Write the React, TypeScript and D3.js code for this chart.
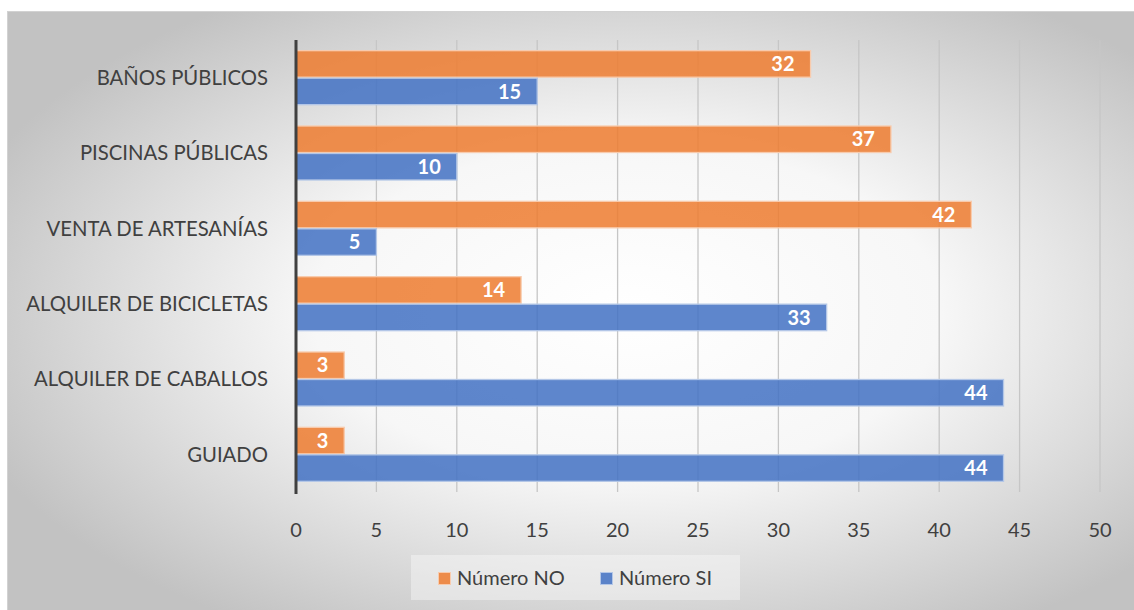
import * as d3 from "d3";

const W = 1134;
const H = 610;
const PLOT = { left: 296, right: 1100, top: 40, bottom: 492 };
const FONT = "Lato, 'Noto Sans', sans-serif";

const categories = [
  "BAÑOS PÚBLICOS",
  "PISCINAS PÚBLICAS",
  "VENTA DE ARTESANÍAS",
  "ALQUILER DE BICICLETAS",
  "ALQUILER DE CABALLOS",
  "GUIADO",
];
const seriesNames = ["Número NO", "Número SI"];
const valuesNo = [32, 37, 42, 14, 3, 3];
const valuesSi = [15, 10, 5, 33, 44, 44];
const xTicks = [0, 5, 10, 15, 20, 25, 30, 35, 40, 45, 50];

const FILL = ["#ED7D31", "#4472C4"];
const EDGE = ["#F8CBAD", "#B4C7E7"];

export default function App() {
  const x = d3.scaleLinear().domain([0, 50]).range([PLOT.left, PLOT.right]);
  const y = d3
    .scaleBand()
    .domain(categories)
    .range([PLOT.top, PLOT.bottom])
    .paddingInner(0.27)
    .paddingOuter(0.135);
  const sub = d3.scaleBand().domain(seriesNames).range([0, y.bandwidth()]);

  const series = [valuesNo, valuesSi];

  return (
    <svg
      width={W}
      height={H}
      style={{ position: "absolute", left: 0, top: 0, fontFamily: FONT }}
    >
      <defs>
        <radialGradient id="bg" cx="0.55" cy="0.5" r="0.62">
          <stop offset="0" stopColor="#ffffff" />
          <stop offset="0.45" stopColor="#f7f7f7" />
          <stop offset="1" stopColor="#c2c2c2" />
        </radialGradient>
      </defs>
      <rect x={0} y={0} width={W} height={H} fill="#fff" />
      <rect
        x={7.5}
        y={11.5}
        width={W - 7}
        height={H - 11}
        fill="url(#bg)"
        stroke="#d2d2d2"
      />

      {xTicks.slice(1).map((t) => (
        <line
          key={t}
          x1={x(t)}
          x2={x(t)}
          y1={PLOT.top}
          y2={PLOT.bottom}
          stroke="#c6c6c6"
          strokeWidth={1.3}
        />
      ))}

      {series.map((vals, si) =>
        categories.map((c, i) => {
          const top = y(c)! + sub(seriesNames[si])!;
          const w = x(vals[i]) - x(0);
          return (
            <g key={`${si}-${i}`}>
              <rect
                x={x(0)}
                y={top + 0.5}
                width={w}
                height={sub.bandwidth() - 1}
                fill={FILL[si]}
                fillOpacity={0.86}
                stroke={EDGE[si]}
                strokeWidth={1.3}
              />
              <text
                x={x(vals[i]) - 16}
                y={top + sub.bandwidth() / 2}
                dy="0.36em"
                textAnchor="end"
                fill="#fff"
                fontWeight="bold"
                fontSize={20}
              >
                {vals[i]}
              </text>
            </g>
          );
        }),
      )}

      <line
        x1={x(0)}
        x2={x(0)}
        y1={PLOT.top}
        y2={PLOT.bottom + 2}
        stroke="#404040"
        strokeWidth={3}
      />

      {categories.map((c) => (
        <text
          key={c}
          x={268}
          y={y(c)! + y.bandwidth() / 2}
          dy="0.36em"
          textAnchor="end"
          fill="#404040"
          fontSize={20.3}
        >
          {c}
        </text>
      ))}

      {xTicks.map((t) => (
        <text
          key={t}
          x={x(t)}
          y={530}
          dy="0.36em"
          textAnchor="middle"
          fill="#404040"
          fontSize={20}
        >
          {t}
        </text>
      ))}

      <rect x={411} y={555} width={329} height={45} fill="#f8f8f8" fillOpacity={0.45} />
      {seriesNames.map((s, si) => {
        const lx = si === 0 ? 438 : 600;
        return (
          <g key={s}>
            <rect
              x={lx + 0.5}
              y={572.5}
              width={12}
              height={12}
              fill={FILL[si]}
              fillOpacity={0.86}
              stroke={EDGE[si]}
            />
            <text x={lx + 19} y={578} dy="0.36em" fill="#404040" fontSize={20}>
              {s}
            </text>
          </g>
        );
      })}
    </svg>
  );
}
